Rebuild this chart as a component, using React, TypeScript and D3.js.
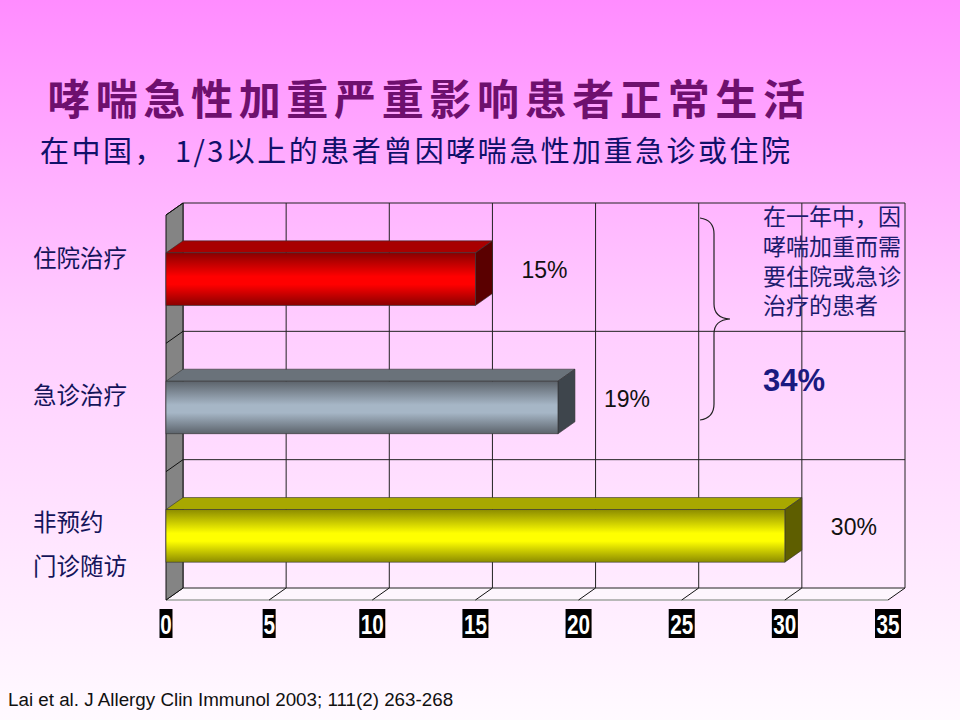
import React, { useRef, useEffect } from 'react';
import * as d3 from 'd3';

// categories (top to bottom) and their values in %
const categories = ['住院治疗', '急诊治疗', '非预约门诊随访'];
const categoryLines = [['住院治疗'], ['急诊治疗'], ['非预约', '门诊随访']];
const values = [15, 19, 30];
const valueLabels = ['15%', '19%', '30%'];
const xTicks = [0, 5, 10, 15, 20, 25, 30, 35];

const title = '哮喘急性加重严重影响患者正常生活';
const subtitle = '在中国， 1/3以上的患者曾因哮喘急性加重急诊或住院';
const noteLines = ['在一年中，因', '哮喘加重而需', '要住院或急诊', '治疗的患者'];
const noteValue = '34%';
const source = 'Lai et al. J Allergy Clin Immunol 2003; 111(2) 263-268';

// colours per bar: [edge, middle, top face, side face]
const barColors = [
  { edge: '#8a0000', mid: '#ff0000', top: '#a80000', side: '#5a0000' },
  { edge: '#5c636b', mid: '#a6b6c6', top: '#6a727a', side: '#3e454c' },
  { edge: '#8c8c00', mid: '#ffff00', top: '#a8a800', side: '#5e5e00' },
];

const W = 960;
const H = 720;

const App: React.FC = () => {
  const svgRef = useRef<SVGSVGElement>(null);

  useEffect(() => {
    if (!svgRef.current) return;
    const svg = d3.select(svgRef.current);
    svg.selectAll('*').remove();

    const defs = svg.append('defs');
    const bg = defs.append('linearGradient').attr('id', 'bg')
      .attr('x1', 0).attr('y1', 0).attr('x2', 0).attr('y2', 1);
    bg.append('stop').attr('offset', '0%').attr('stop-color', '#ff8cff');
    bg.append('stop').attr('offset', '45%').attr('stop-color', '#ffcdff');
    bg.append('stop').attr('offset', '100%').attr('stop-color', '#fffaff');

    barColors.forEach((c, i) => {
      const g = defs.append('linearGradient').attr('id', `front${i}`)
        .attr('x1', 0).attr('y1', 0).attr('x2', 0).attr('y2', 1);
      g.append('stop').attr('offset', '0%').attr('stop-color', c.edge);
      g.append('stop').attr('offset', '45%').attr('stop-color', c.mid);
      g.append('stop').attr('offset', '60%').attr('stop-color', c.mid);
      g.append('stop').attr('offset', '100%').attr('stop-color', c.edge);
    });

    svg.append('rect').attr('width', W).attr('height', H).attr('fill', 'url(#bg)');

    // back wall geometry
    const left = 183;
    const right = 905;
    const top = 203;
    const bottom = 588;
    const dx = -17;
    const dy = 12;

    const x = d3.scaleLinear().domain([0, 35]).range([left, right]);
    const y = d3.scaleBand<string>().domain(categories).range([top, bottom]);
    const bw = y.bandwidth();
    const barH = bw * 0.41;
    const barOff = (bw - barH) / 2;

    // floor
    svg.append('polygon')
      .attr('points', `${left},${bottom} ${right},${bottom} ${right + dx},${bottom + dy} ${left + dx},${bottom + dy}`)
      .attr('fill', '#fdf6fd');
    svg.append('line')
      .attr('x1', left + dx).attr('x2', right + dx)
      .attr('y1', bottom + dy).attr('y2', bottom + dy)
      .attr('stroke', '#b8b8b8').attr('stroke-width', 2);
    svg.append('g').selectAll('line').data(xTicks).enter().append('line')
      .attr('x1', d => x(d)).attr('y1', bottom)
      .attr('x2', d => x(d) + dx).attr('y2', bottom + dy)
      .attr('stroke', '#111').attr('stroke-width', 1);

    // grid on back wall
    const grid = svg.append('g').attr('stroke', '#222').attr('stroke-width', 1);
    grid.selectAll('.v').data(xTicks).enter().append('line')
      .attr('x1', d => x(d)).attr('x2', d => x(d))
      .attr('y1', top).attr('y2', bottom);
    const hLines = [top, ...categories.slice(1).map(c => y(c) as number), bottom];
    grid.selectAll('.h').data(hLines).enter().append('line')
      .attr('x1', left).attr('x2', right)
      .attr('y1', d => d).attr('y2', d => d);

    // side wall
    svg.append('polygon')
      .attr('points', `${left},${top} ${left + dx},${top + dy} ${left + dx},${bottom + dy} ${left},${bottom}`)
      .attr('fill', '#848484').attr('stroke', '#111').attr('stroke-width', 1);
    svg.append('g').selectAll('line').data(hLines.slice(0, 3)).enter().append('line')
      .attr('x1', left).attr('y1', d => d)
      .attr('x2', left + dx).attr('y2', d => d + dy)
      .attr('stroke', '#111').attr('stroke-width', 1);

    // bars
    const bars = svg.append('g');
    categories.forEach((c, i) => {
      const ty = (y(c) as number) + barOff;
      const x0 = x(0);
      const xv = x(values[i]);
      const g = bars.append('g').attr('stroke', '#333').attr('stroke-width', 0.6);
      g.append('polygon')
        .attr('points', `${x0},${ty} ${xv},${ty} ${xv + dx},${ty + dy} ${x0 + dx},${ty + dy}`)
        .attr('fill', barColors[i].top);
      g.append('polygon')
        .attr('points', `${xv},${ty} ${xv},${ty + barH} ${xv + dx},${ty + barH + dy} ${xv + dx},${ty + dy}`)
        .attr('fill', barColors[i].side);
      g.append('rect')
        .attr('x', x0 + dx).attr('y', ty + dy)
        .attr('width', xv - x0).attr('height', barH)
        .attr('fill', `url(#front${i})`);

      svg.append('text')
        .attr('x', xv + 29).attr('y', ty + barH / 2 + 3)
        .attr('dy', '0.35em')
        .attr('font-family', 'Liberation Sans, Arial, sans-serif')
        .attr('font-size', 23).attr('fill', '#111')
        .text(valueLabels[i]);
    });

    // x tick labels: white on black boxes
    const ticks = svg.append('g');
    xTicks.forEach(t => {
      const label = String(t);
      const cx = x(t) + dx;
      const w = label.length * 13;
      ticks.append('rect')
        .attr('x', cx - w / 2).attr('y', 609)
        .attr('width', w).attr('height', 29)
        .attr('fill', '#000');
      ticks.append('text')
        .attr('x', cx).attr('y', 634)
        .attr('text-anchor', 'middle')
        .attr('font-family', 'Liberation Sans Narrow, Liberation Sans, Arial, sans-serif')
        .attr('font-weight', 'bold').attr('font-size', 28)
        .attr('textLength', label.length * 11.5).attr('lengthAdjust', 'spacingAndGlyphs')
        .attr('fill', '#fff')
        .text(label);
    });

    // category labels
    const catY = [259, 396, 545];
    categoryLines.forEach((lines, i) => {
      const n = lines.length;
      lines.forEach((ln, j) => {
        svg.append('text')
          .attr('x', 33).attr('y', catY[i] + (j - (n - 1) / 2) * 44)
          .attr('dy', '0.36em')
          .attr('font-family', 'Noto Sans CJK SC, sans-serif')
          .attr('font-size', 23.5).attr('fill', '#14145a')
          .text(ln);
      });
    });

    // titles
    svg.append('text')
      .attr('x', 48).attr('y', 115)
      .attr('font-family', 'Noto Sans CJK SC, sans-serif')
      .attr('font-weight', 'bold').attr('font-size', 42)
      .attr('textLength', 757).attr('lengthAdjust', 'spacing')
      .attr('fill', '#6e106e')
      .text(title);
    svg.append('text')
      .attr('x', 40).attr('y', 162)
      .attr('font-family', 'Noto Sans CJK SC, sans-serif')
      .attr('font-size', 29)
      .attr('textLength', 750).attr('lengthAdjust', 'spacing')
      .attr('fill', '#10106a')
      .text(subtitle);

    // brace
    svg.append('path')
      .attr('d', 'M700,218 Q714,220 714,234 L714,304 Q714,318 730,319 Q714,320 714,334 L714,404 Q714,418 700,420')
      .attr('fill', 'none').attr('stroke', '#222').attr('stroke-width', 1.2);

    // note, one text block with tight line spacing as in the slide
    const note = svg.append('text')
      .attr('x', 763).attr('y', 217)
      .attr('dy', '0.36em')
      .attr('font-family', 'Noto Sans CJK SC, sans-serif')
      .attr('font-size', 23).attr('fill', '#1c1c6e');
    noteLines.forEach((ln, i) => {
      note.append('tspan')
        .attr('x', 763).attr('y', 217 + i * 29.7)
        .attr('dy', '0.36em')
        .text(ln);
    });
    svg.append('text')
      .attr('x', 763).attr('y', 380)
      .attr('dy', '0.36em')
      .attr('font-family', 'Liberation Sans, Arial, sans-serif')
      .attr('font-weight', 'bold').attr('font-size', 31)
      .attr('fill', '#1a1a80')
      .text(noteValue);

    // source
    svg.append('text')
      .attr('x', 8).attr('y', 706)
      .attr('font-family', 'Liberation Sans, Arial, sans-serif')
      .attr('font-size', 18.8).attr('fill', '#111')
      .text(source);
  }, []);

  return (
    <div style={{ position: 'absolute', left: 0, top: 0, width: W, height: H }}>
      <svg ref={svgRef} width={W} height={H} style={{ display: 'block' }} />
    </div>
  );
};

export default App;
